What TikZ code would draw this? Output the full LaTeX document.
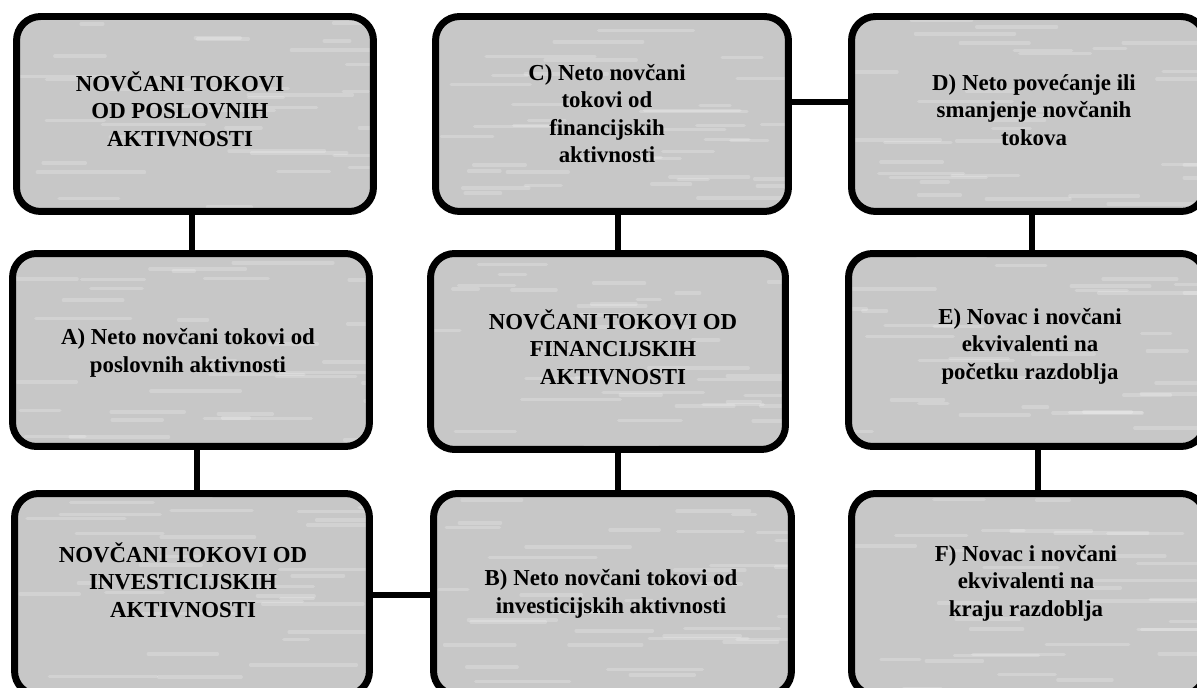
\documentclass[tikz,border=0pt]{standalone}
\usepackage{fontspec}
\setmainfont{Liberation Serif}
\definecolor{boxgray}{RGB}{199,199,199}
\begin{document}
\begin{tikzpicture}[x=0.02cm,y=-0.02cm,
  box/.style={draw=black, line width=3.97pt, rounded corners=0.48cm, fill=boxgray, inner sep=0pt,
    path picture={\foreach \k in {1,...,38}{%
      \pgfmathsetmacro\sx{rand*185}\pgfmathsetmacro\sy{rand*105}\pgfmathsetmacro\sl{20+rnd*90}%
      \draw[white,opacity=0.2,line width=2pt,line cap=round]
        ([shift={(\sx,\sy)}]path picture bounding box.center) -- ++(\sl,0);}}},
  lbl/.style={align=center, inner sep=0pt, font=\bfseries\fontsize{13}{15.7}\selectfont, text=black},
  link/.style={line width=3.97pt, draw=black}]
\pgfmathsetseed{7}
\useasboundingbox (0,0) rectangle (1197,688);
\clip (0,0) rectangle (1197,688);
\fill[white] (0,0) rectangle (1197,688);
% connector guide coordinates
\coordinate (c14) at (192,0);
\coordinate (c47) at (197,0);
\coordinate (c78) at (0,595);
\coordinate (c85) at (618,0);
\coordinate (c23) at (0,102);
\coordinate (c36) at (1032,0);
\coordinate (c69) at (1038,0);
% boxes
\node[box, minimum width=7.14cm, minimum height=3.9cm]  (b1) at (195,114) {};
\node[box, minimum width=7.14cm, minimum height=3.86cm] (b4) at (191,350) {};
\node[box, minimum width=7.1cm,  minimum height=4.03cm] (b7) at (192,594.25) {};
\node[box, minimum width=7.06cm, minimum height=3.9cm]  (b2) at (612,114) {};
\node[box, minimum width=7.1cm,  minimum height=3.92cm] (b5) at (608,351.5) {};
\node[box, minimum width=7.16cm, minimum height=4.03cm] (b8) at (612.5,594.25) {};
\node[box, minimum width=7.07cm, minimum height=3.9cm]  (b3) at (1028.25,114) {};
\node[box, minimum width=7.13cm, minimum height=3.86cm] (b6) at (1026.75,350) {};
\node[box, minimum width=7.07cm, minimum height=4.03cm] (b9) at (1028.25,594.25) {};
% connectors
\draw[link] (b1.south -| c14) -- (b4.north -| c14);
\draw[link] (b4.south -| c47) -- (b7.north -| c47);
\draw[link] (b7.east |- c78) -- (b8.west |- c78);
\draw[link] (b8.north -| c85) -- (b5.south -| c85);
\draw[link] (b5.north -| c85) -- (b2.south -| c85);
\draw[link] (b2.east |- c23) -- (b3.west |- c23);
\draw[link] (b3.south -| c36) -- (b6.north -| c36);
\draw[link] (b6.south -| c69) -- (b9.north -| c69);
% texts
\node[lbl] (t1) at (180,109) {NOVČANI TOKOVI\\OD POSLOVNIH\\AKTIVNOSTI};
\node[lbl] (t2) at (607,113.5) {C) Neto novčani\\tokovi od\\financijskih\\aktivnosti};
\node[lbl] (t3) at (1034,110) {D) Neto povećanje ili\\smanjenje novčanih\\tokova};
\node[lbl] (t4) at (188,353) {A) Neto novčani tokovi od\\poslovnih aktivnosti};
\node[lbl] (t5) at (613,347) {NOVČANI TOKOVI OD\\FINANCIJSKIH\\AKTIVNOSTI};
\node[lbl] (t6) at (1030,346) {E) Novac i novčani\\ekvivalenti na\\početku razdoblja};
\node[lbl] (t7) at (183,580) {NOVČANI TOKOVI OD\\INVESTICIJSKIH\\AKTIVNOSTI};
\node[lbl] (t8) at (611,594) {B) Neto novčani tokovi od\\investicijskih aktivnosti};
\node[lbl] (t9) at (1026,583) {F) Novac i novčani\\ekvivalenti na\\kraju razdoblja};
\end{tikzpicture}
\end{document}
